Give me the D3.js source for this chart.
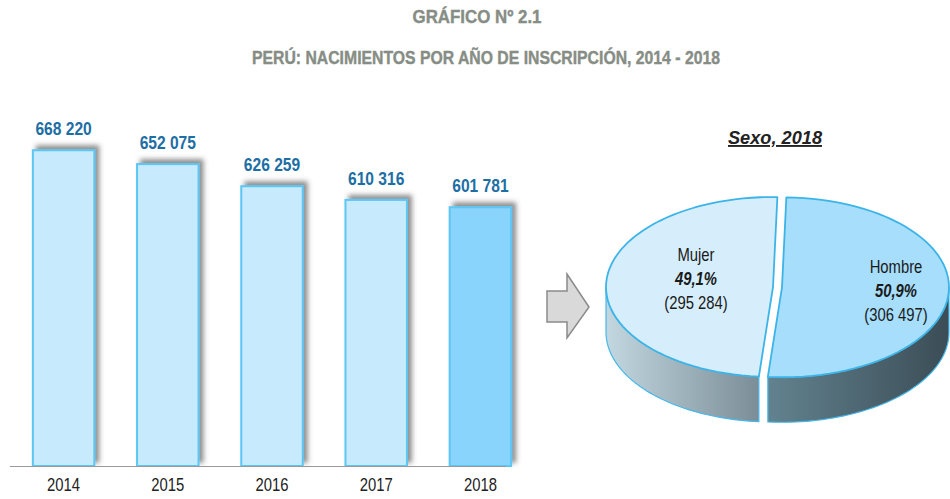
<!DOCTYPE html>
<html>
<head>
<meta charset="utf-8">
<script src="https://cdn.jsdelivr.net/npm/d3@7"></script>
<style>
  body { margin: 0; background: #fff; }
  svg { display: block; }
  text { font-family: "Liberation Sans", Arial, sans-serif; }
</style>
</head>
<body>
<svg id="chart" width="950" height="499"></svg>
<script>
// data
const years = ['2014', '2015', '2016', '2017', '2018'];
const births = [668220, 652075, 626259, 610316, 601781];
const sexLabels = ['Hombre', 'Mujer'];
const sexValues = [306497, 295284];
const sexPct = ['50,9%', '49,1%'];

const fmt = (v) => d3.format(',')(v).replace(/,/g, ' ');

// squeeze a text selection horizontally to mimic a narrow face
function narrow(sel, ratio) {
    sel.each(function () {
        const len = this.getComputedTextLength();
        d3.select(this).attr('textLength', len * ratio).attr('lengthAdjust', 'spacingAndGlyphs');
    });
}

const svg = d3.select('#chart');
const defs = svg.append('defs');

// shadow for the bars
const shadow = defs.append('filter').attr('id', 'shadow')
    .attr('x', '-30%').attr('y', '-30%').attr('width', '160%').attr('height', '160%');
shadow.append('feDropShadow')
    .attr('dx', 4).attr('dy', -4).attr('stdDeviation', 2.5)
    .attr('flood-color', '#444').attr('flood-opacity', 0.6);

function grad(id, c1, c2) {
    const g = defs.append('linearGradient').attr('id', id)
        .attr('x1', '0%').attr('x2', '100%').attr('y1', '0%').attr('y2', '0%');
    g.append('stop').attr('offset', '0%').attr('stop-color', c1);
    g.append('stop').attr('offset', '100%').attr('stop-color', c2);
}
grad('sideMujer', '#c3d7e1', '#7b8e97');
grad('sideHombre', '#62828f', '#3b4d56');

// titles
svg.append('text')
    .attr('x', 477).attr('y', 23)
    .attr('text-anchor', 'middle')
    .attr('font-size', 18.5).attr('font-weight', 'bold')
    .attr('fill', '#868d85')
    .attr('stroke', '#868d85').attr('stroke-width', 0.4)
    .attr('textLength', 129).attr('lengthAdjust', 'spacingAndGlyphs')
    .text('GRÁFICO Nº 2.1');

svg.append('text')
    .attr('x', 486).attr('y', 64)
    .attr('text-anchor', 'middle')
    .attr('font-size', 18.5).attr('font-weight', 'bold')
    .attr('fill', '#868d85')
    .attr('stroke', '#868d85').attr('stroke-width', 0.4)
    .attr('textLength', 468).attr('lengthAdjust', 'spacingAndGlyphs')
    .text('PERÚ: NACIMIENTOS POR AÑO DE INSCRIPCIÓN, 2014 - 2018');

// bar chart
const x = d3.scaleBand()
    .domain(years)
    .range([12, 532])
    .paddingInner(0.41)
    .paddingOuter(0.2);

const y = d3.scaleLinear()
    .domain([300000, 700000])
    .range([466, 123]);

const barData = years.map((yr, i) => ({ year: yr, value: births[i] }));

svg.append('g')
    .selectAll('rect')
    .data(barData)
    .join('rect')
    .attr('x', d => x(d.year))
    .attr('y', d => y(d.value))
    .attr('width', x.bandwidth())
    .attr('height', d => y.range()[0] - y(d.value))
    .attr('fill', (d, i) => i === years.length - 1 ? '#89d4fc' : '#c7eafc')
    .attr('stroke', '#5cc6f4')
    .attr('stroke-width', 2)
    .attr('filter', 'url(#shadow)');

const valueLabels = svg.append('g')
    .selectAll('text')
    .data(barData)
    .join('text')
    .attr('x', d => x(d.year) + x.bandwidth() / 2)
    .attr('y', d => y(d.value) - 15)
    .attr('text-anchor', 'middle')
    .attr('font-size', 19).attr('font-weight', 'bold')
    .attr('fill', '#1d6ea4')
    .text(d => fmt(d.value));
narrow(valueLabels, 0.82);

// axis
const axis = svg.append('g')
    .attr('transform', `translate(0,${y.range()[0]})`)
    .call(d3.axisBottom(x).tickSize(0).tickPadding(12));
axis.select('.domain').attr('d', 'M10,0.5H506').attr('stroke', '#999').attr('stroke-width', 1.2);
axis.selectAll('text')
    .attr('font-size', 19)
    .attr('fill', '#222')
    .style('font-family', '"Liberation Sans", Arial, sans-serif');
narrow(axis.selectAll('text'), 0.78);

// arrow
svg.append('path')
    .attr('d', 'M547,291H567V274L589,307L567,338V322H547Z')
    .attr('fill', '#d9d9d9')
    .attr('stroke', '#8a8a8a')
    .attr('stroke-width', 1.5);

// pie title
svg.append('text')
    .attr('x', 775).attr('y', 144)
    .attr('text-anchor', 'middle')
    .attr('font-size', 19).attr('font-weight', 'bold').attr('font-style', 'italic')
    .attr('fill', '#222')
    .attr('text-decoration', 'underline')
    .attr('textLength', 94).attr('lengthAdjust', 'spacingAndGlyphs')
    .text('Sexo, 2018');

// 3D pie
const cx = 773, cy = 287, rx = 167, ry = 90, depth = 45;
const startA = 1.5 * Math.PI / 180;
const pie = d3.pie().sort(null).startAngle(startA).endAngle(startA + 2 * Math.PI);
const arcs = pie(sexValues).map((a, i) => ({ ...a, label: sexLabels[i], pct: sexPct[i] }));

const explode = { Hombre: 9, Mujer: 0 };
const pt2 = (a, ox, oy, dy = 0) => [ox + rx * Math.sin(a), oy - ry * Math.cos(a) + dy];
const line = d3.line();

function offsets(d) {
    const mid = (d.startAngle + d.endAngle) / 2;
    const e = explode[d.label];
    return [cx + e * Math.sin(mid), cy - e * Math.cos(mid) * ry / rx];
}

function topPath(d) {
    const [ox, oy] = offsets(d);
    const pts = d3.range(0, 61).map(k => pt2(d.startAngle + (d.endAngle - d.startAngle) * k / 60, ox, oy));
    return line([[ox, oy], ...pts]) + 'Z';
}

function sidePath(d) {
    const [ox, oy] = offsets(d);
    // visible front: angles between PI/2 and 3PI/2
    const a0 = Math.max(d.startAngle, Math.PI / 2);
    const a1 = Math.min(d.endAngle, 3 * Math.PI / 2);
    if (a1 <= a0) return null;
    const n = 50;
    const upper = d3.range(0, n + 1).map(k => pt2(a0 + (a1 - a0) * k / n, ox, oy));
    const lower = d3.range(0, n + 1).map(k => pt2(a1 - (a1 - a0) * k / n, ox, oy, depth));
    return line([...upper, ...lower]) + 'Z';
}

const sideFill = { Hombre: 'url(#sideHombre)', Mujer: 'url(#sideMujer)' };
const topFill = { Hombre: '#a6defb', Mujer: '#d6eefb' };

svg.append('g')
    .selectAll('path')
    .data(arcs.filter(d => sidePath(d)))
    .join('path')
    .attr('d', sidePath)
    .attr('fill', d => sideFill[d.label])
    .attr('stroke', '#45b8ea')
    .attr('stroke-width', 1.2)
    .attr('stroke-linejoin', 'round');

svg.append('g')
    .selectAll('path')
    .data(arcs)
    .join('path')
    .attr('d', topPath)
    .attr('fill', d => topFill[d.label])
    .attr('stroke', '#3cb4e8')
    .attr('stroke-width', 1.8)
    .attr('stroke-linejoin', 'round');

// pie labels
const labelPos = { Hombre: [896, 273], Mujer: [696, 261] };
const lg = svg.append('g')
    .selectAll('g')
    .data(arcs)
    .join('g')
    .attr('transform', d => `translate(${labelPos[d.label][0]},${labelPos[d.label][1]})`)
    .attr('text-anchor', 'middle')
    .attr('font-size', 19)
    .attr('fill', '#1a1a1a');
lg.append('text').attr('y', 0).text(d => d.label);
lg.append('text').attr('y', 24).attr('font-weight', 'bold').attr('font-style', 'italic').text(d => d.pct);
lg.append('text').attr('y', 48).text(d => '(' + fmt(d.data) + ')');
narrow(lg.selectAll('text'), 0.78);
</script>
</body>
</html>
